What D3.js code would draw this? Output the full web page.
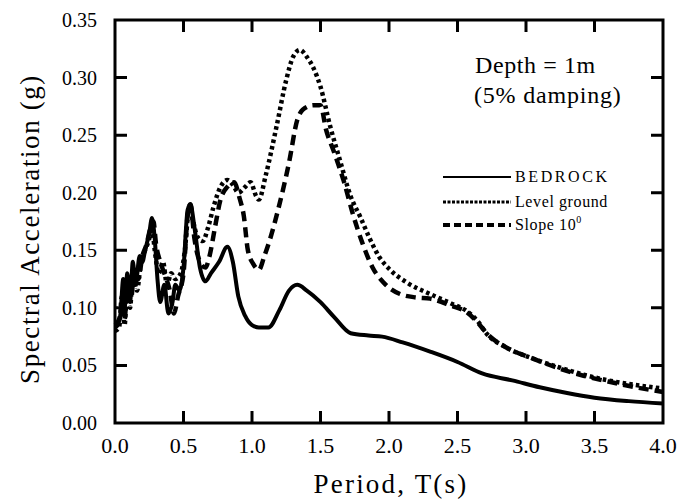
<!DOCTYPE html>
<html>
<head>
<meta charset="utf-8">
<script src="https://cdn.jsdelivr.net/npm/d3@7"></script>
<style>
  html, body { margin: 0; padding: 0; background: #fff; }
  svg text { font-family: "Liberation Serif", "DejaVu Serif", serif; fill: #000; }
</style>
</head>
<body>
<svg id="chart" width="679" height="503"></svg>
<script>
// Period values (s) and spectral acceleration (g) for each record
const bedrock = [
  [0,0.083],[0.02,0.085],[0.04,0.095],[0.06,0.125],[0.07,0.10],[0.09,0.13],[0.11,0.105],
  [0.13,0.14],[0.15,0.12],[0.18,0.145],[0.2,0.14],[0.22,0.15],[0.25,0.165],[0.27,0.178],
  [0.29,0.16],[0.31,0.125],[0.33,0.105],[0.36,0.12],[0.39,0.095],[0.42,0.105],[0.44,0.12],
  [0.47,0.115],[0.5,0.135],[0.53,0.185],[0.55,0.19],[0.58,0.17],[0.62,0.135],[0.66,0.123],
  [0.70,0.13],[0.76,0.14],[0.82,0.153],[0.86,0.14],[0.9,0.11],[0.95,0.093],[1.0,0.085],
  [1.05,0.083],[1.12,0.083],[1.2,0.098],[1.27,0.115],[1.33,0.12],[1.4,0.115],[1.5,0.105],
  [1.6,0.092],[1.72,0.078],[1.85,0.076],[1.95,0.075],[2.1,0.07],[2.3,0.062],[2.5,0.053],
  [2.68,0.043],[2.9,0.037],[3.1,0.031],[3.3,0.026],[3.5,0.022],[3.75,0.019],[4.0,0.017]
];
const levelGround = [
  [0,0.08],[0.03,0.083],[0.05,0.11],[0.07,0.085],[0.09,0.12],[0.11,0.10],[0.13,0.13],
  [0.16,0.115],[0.19,0.14],[0.22,0.15],[0.25,0.16],[0.27,0.17],[0.29,0.15],[0.32,0.13],
  [0.35,0.14],[0.38,0.12],[0.41,0.13],[0.44,0.125],[0.48,0.13],[0.51,0.15],[0.54,0.185],
  [0.57,0.175],[0.6,0.162],[0.64,0.158],[0.68,0.17],[0.72,0.188],[0.77,0.205],[0.82,0.211],
  [0.86,0.207],[0.9,0.20],[0.95,0.205],[0.99,0.209],[1.03,0.197],[1.05,0.194],[1.1,0.215],
  [1.18,0.258],[1.25,0.298],[1.3,0.318],[1.35,0.324],[1.4,0.318],[1.45,0.308],[1.5,0.292],
  [1.57,0.258],[1.64,0.229],[1.72,0.197],[1.79,0.179],[1.86,0.16],[1.93,0.144],[2.0,0.134],
  [2.13,0.122],[2.3,0.112],[2.45,0.104],[2.57,0.097],[2.65,0.088],[2.71,0.078],[2.85,0.066],
  [3.05,0.056],[3.25,0.048],[3.42,0.042],[3.6,0.037],[3.8,0.033],[4.0,0.03]
];
const slope10 = [
  [0,0.085],[0.03,0.09],[0.05,0.1],[0.07,0.09],[0.09,0.12],[0.12,0.11],[0.14,0.135],
  [0.17,0.125],[0.2,0.145],[0.23,0.155],[0.26,0.17],[0.28,0.175],[0.3,0.155],[0.33,0.14],
  [0.36,0.13],[0.4,0.115],[0.43,0.095],[0.46,0.11],[0.5,0.13],[0.53,0.18],[0.55,0.19],
  [0.58,0.16],[0.62,0.14],[0.66,0.135],[0.69,0.145],[0.73,0.17],[0.77,0.194],[0.82,0.205],
  [0.87,0.209],[0.91,0.195],[0.94,0.18],[0.97,0.15],[1.01,0.138],[1.05,0.133],[1.09,0.145],
  [1.13,0.159],[1.19,0.185],[1.27,0.226],[1.33,0.263],[1.37,0.272],[1.45,0.276],[1.5,0.276],
  [1.54,0.255],[1.6,0.235],[1.67,0.21],[1.74,0.18],[1.81,0.155],[1.88,0.135],[1.96,0.122],
  [2.08,0.112],[2.2,0.109],[2.3,0.108],[2.45,0.102],[2.57,0.096],[2.65,0.087],[2.72,0.077],
  [2.85,0.066],[3.05,0.056],[3.25,0.047],[3.42,0.041],[3.6,0.036],[3.8,0.031],[4.0,0.027]
];

const xTicks = [0, 0.5, 1.0, 1.5, 2.0, 2.5, 3.0, 3.5, 4.0];
const yTicks = [0, 0.05, 0.10, 0.15, 0.20, 0.25, 0.30, 0.35];
const seriesNames = ["BEDROCK", "Level ground", "Slope 10"];

const svg = d3.select("#chart");
const plotLeft = 115, plotRight = 663, plotTop = 20, plotBottom = 423;

const x = d3.scaleLinear().domain([0, 4]).range([plotLeft, plotRight]);
const y = d3.scaleLinear().domain([0, 0.35]).range([plotBottom, plotTop]);

// frame plus inward ticks on all four sides
const tickLen = 12;
const frame = d3.path();
frame.rect(plotLeft, plotTop, plotRight - plotLeft, plotBottom - plotTop);
xTicks.forEach(t => {
  frame.moveTo(x(t), plotBottom); frame.lineTo(x(t), plotBottom - tickLen);
  frame.moveTo(x(t), plotTop); frame.lineTo(x(t), plotTop + tickLen);
});
yTicks.forEach(t => {
  frame.moveTo(plotLeft, y(t)); frame.lineTo(plotLeft + tickLen, y(t));
  frame.moveTo(plotRight, y(t)); frame.lineTo(plotRight - tickLen, y(t));
});
svg.append("path")
  .attr("d", frame.toString())
  .attr("fill", "none")
  .attr("stroke", "#000")
  .attr("stroke-width", 3);

// tick labels
svg.append("g").selectAll("text")
  .data(yTicks).enter().append("text")
  .attr("x", plotLeft - 18)
  .attr("y", d => y(d) + 7)
  .attr("text-anchor", "end")
  .style("font-size", "20px")
  .text(d => d.toFixed(2));

svg.append("g").selectAll("text")
  .data(xTicks).enter().append("text")
  .attr("x", d => x(d))
  .attr("y", 453)
  .attr("text-anchor", "middle")
  .style("font-size", "22px")
  .text(d => d.toFixed(1));

// axis titles
svg.append("text")
  .attr("x", 391).attr("y", 493)
  .attr("text-anchor", "middle")
  .style("font-size", "27px")
  .style("letter-spacing", "2.2px")
  .text("Period, T(s)");

svg.append("text")
  .attr("transform", "translate(39,229) rotate(-90)")
  .attr("text-anchor", "middle")
  .style("font-size", "27px")
  .style("letter-spacing", "1.6px")
  .text("Spectral Acceleration (g)");

// curves
const line = d3.line()
  .x(d => x(d[0]))
  .y(d => y(d[1]))
  .curve(d3.curveMonotoneX);

const styles = [
  { data: bedrock, dash: null, width: 4 },
  { data: levelGround, dash: "3.5,3.2", width: 4.5 },
  { data: slope10, dash: "10,6", width: 4.5 }
];

svg.append("g").selectAll("path")
  .data(styles).enter().append("path")
  .attr("d", d => line(d.data))
  .attr("fill", "none")
  .attr("stroke", "#000")
  .attr("stroke-width", d => d.width)
  .attr("stroke-dasharray", d => d.dash)
  .attr("stroke-linejoin", "round");

// annotation
svg.append("text")
  .attr("x", 475).attr("y", 73)
  .style("font-size", "24px")
  .style("letter-spacing", "0.6px")
  .text("Depth = 1m");
svg.append("text")
  .attr("x", 474).attr("y", 103)
  .style("font-size", "24px")
  .style("letter-spacing", "0.8px")
  .text("(5% damping)");

// legend
const legendStyles = [
  { dash: null, width: 2 },
  { dash: "3,1.5", width: 3 },
  { dash: "7,4", width: 4 }
];
const legendY = [177, 202, 225];
const legend = svg.append("g");
legend.selectAll("line")
  .data(legendStyles).enter().append("line")
  .attr("x1", 443).attr("x2", 511)
  .attr("y1", (d, i) => legendY[i]).attr("y2", (d, i) => legendY[i])
  .attr("stroke", "#000")
  .attr("stroke-width", d => d.width)
  .attr("stroke-dasharray", d => d.dash);

const labels = legend.selectAll("text")
  .data(seriesNames).enter().append("text")
  .attr("x", 515)
  .attr("y", (d, i) => legendY[i] + 5)
  .style("font-size", "16px")
  .style("letter-spacing", (d, i) => i === 0 ? "2.6px" : "0.6px")
  .text(d => d);
labels.filter((d, i) => i === 2)
  .append("tspan")
  .attr("dy", -7)
  .style("font-size", "10px")
  .text("0");
</script>
</body>
</html>
